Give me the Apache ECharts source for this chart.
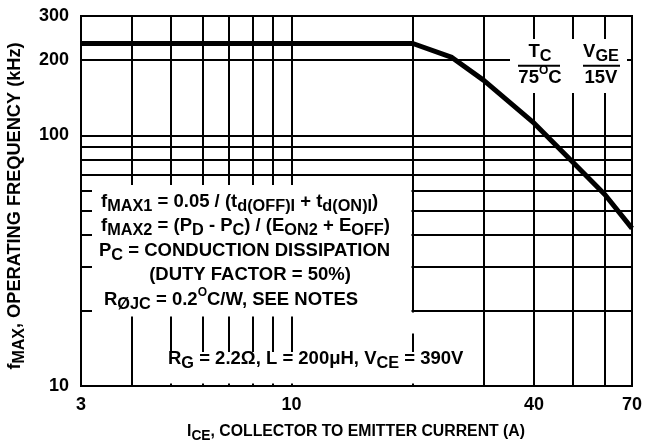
<!DOCTYPE html>
<html><head><meta charset="utf-8">
<script src="https://cdn.jsdelivr.net/npm/echarts@6/dist/echarts.min.js"></script>
<style>html,body{margin:0;padding:0;background:#fff}#c{width:646px;height:444px}</style>
</head><body><div id="c"></div>
<script>
// ---- data ----
const current = [3, 20, 25, 30, 40, 50, 60, 70];
const freq = [233, 233, 205, 166, 112, 78, 58, 42.6];
const xGridValues = [3, 4, 5, 6, 7, 8, 9, 10, 20, 30, 40, 50, 60, 70];
const yGridValues = [10, 20, 30, 40, 50, 60, 70, 80, 90, 100, 200, 300];
const xTickLabels = [3, 10, 40, 70];
const yTickLabels = [10, 100, 200, 300];

const F = '"Liberation Sans", Arial, Helvetica, sans-serif';
function fnt(size) { return 'bold ' + size + 'px ' + F; }
function richSet(base, sub, sup, lh) {
  return {
    b: {font: fnt(base), fontSize: base, fontWeight: 'bold', fontFamily: F, fill: '#000', lineHeight: lh},
    s: {font: fnt(sub), fontSize: sub, fontWeight: 'bold', fontFamily: F, fill: '#000', lineHeight: sub, verticalAlign: 'bottom'},
    p: {font: fnt(sup), fontSize: sup, fontWeight: 'bold', fontFamily: F, fill: '#000', lineHeight: 16, verticalAlign: 'top'}
  };
}
const RA = richSet(18.5, 16.3, 12, 26);   // annotations, legend
const RY = richSet(18.2, 16, 12, 26);     // y title
const RX = richSet(15.8, 13.8, 11, 22);   // x title

function txt(x, y, text, rich, align, rotation) {
  return {type: 'text', z: 5, x: x, y: y, rotation: rotation || 0, silent: true,
    style: {text: text, rich: rich, font: fnt(18), fill: '#000', align: align || 'left', verticalAlign: 'middle'}};
}
function box(x, y, w, h) {
  return {type: 'rect', z: 1, silent: true, shape: {x: x, y: y, width: w, height: h}, style: {fill: '#fff'}};
}
function hline(x1, x2, y) {
  return {type: 'line', z: 5, silent: true, shape: {x1: x1, y1: y, x2: x2, y2: y}, style: {stroke: '#000', lineWidth: 2}};
}

const labelStyle = {fontSize: 18, fontWeight: 'bold', fontFamily: F, color: '#000'};

const chart = echarts.init(document.getElementById('c'), null, {renderer: 'canvas'});
chart.setOption({
  animation: false,
  backgroundColor: '#fff',
  grid: {left: 81, right: 14, top: 16, bottom: 58, show: true, borderColor: '#000', borderWidth: 2, backgroundColor: 'transparent'},
  xAxis: {
    type: 'log', logBase: 10, min: 3, max: 70, z: 0,
    axisLine: {show: false},
    axisTick: {show: false, customValues: xGridValues},
    splitLine: {show: true, lineStyle: {color: '#000', width: 2}},
    axisLabel: Object.assign({customValues: xTickLabels, margin: 10}, labelStyle)
  },
  yAxis: {
    type: 'log', logBase: 10, min: 10, max: 300, z: 0,
    axisLine: {show: false},
    axisTick: {show: false, customValues: yGridValues},
    splitLine: {show: true, lineStyle: {color: '#000', width: 2}},
    axisLabel: Object.assign({customValues: yTickLabels, margin: 12}, labelStyle)
  },
  series: [{
    type: 'line', z: 3, silent: true, showSymbol: false,
    data: current.map((c, i) => [c, freq[i]]),
    lineStyle: {color: '#000', width: 5, join: 'round'}
  }],
  graphic: [
    box(92, 185, 319.5, 131.5),
    box(408, 312.5, 10, 21),
    box(140, 352, 330, 31.5),
    box(510, 39, 117, 54),
    txt(101, 202, '{b|f}{s|MAX1}{b| = 0.05 / (t}{s|d(OFF)I}{b| + t}{s|d(ON)I}{b|)}', RA),
    txt(101, 226, '{b|f}{s|MAX2}{b| = (P}{s|D}{b| - P}{s|C}{b|) / (E}{s|ON2}{b| + E}{s|OFF}{b|)}', RA),
    txt(99, 251, '{b|P}{s|C}{b| = CONDUCTION DISSIPATION}', RA),
    txt(250, 275, '{b|(DUTY FACTOR = 50%)}', RA, 'center'),
    txt(104, 299.5, '{b|R}{s|ØJC}{b| = 0.2}{p|O}{b|C/W, SEE NOTES}', RA),
    txt(168, 359, '{b|R}{s|G}{b| = 2.2Ω, L = 200μH, V}{s|CE}{b| = 390V}', RA),
    txt(540, 52, '{b|T}{s|C}', RA, 'center'),
    hline(518, 560, 65.7),
    txt(540, 77.5, '{b|75}{p|O}{b|C}', RA, 'center'),
    txt(601, 52, '{b|V}{s|GE}', RA, 'center'),
    hline(583, 620, 65.7),
    txt(601, 77.5, '{b|15V}', RA, 'center'),
    txt(356, 432, '{b|I}{s|CE}{b|, COLLECTOR TO EMITTER CURRENT (A)}', RX, 'center'),
    txt(15, 206, '{b|f}{s|MAX}{b|, OPERATING FREQUENCY (kHz)}', RY, 'center', Math.PI / 2)
  ]
});
</script></body></html>
